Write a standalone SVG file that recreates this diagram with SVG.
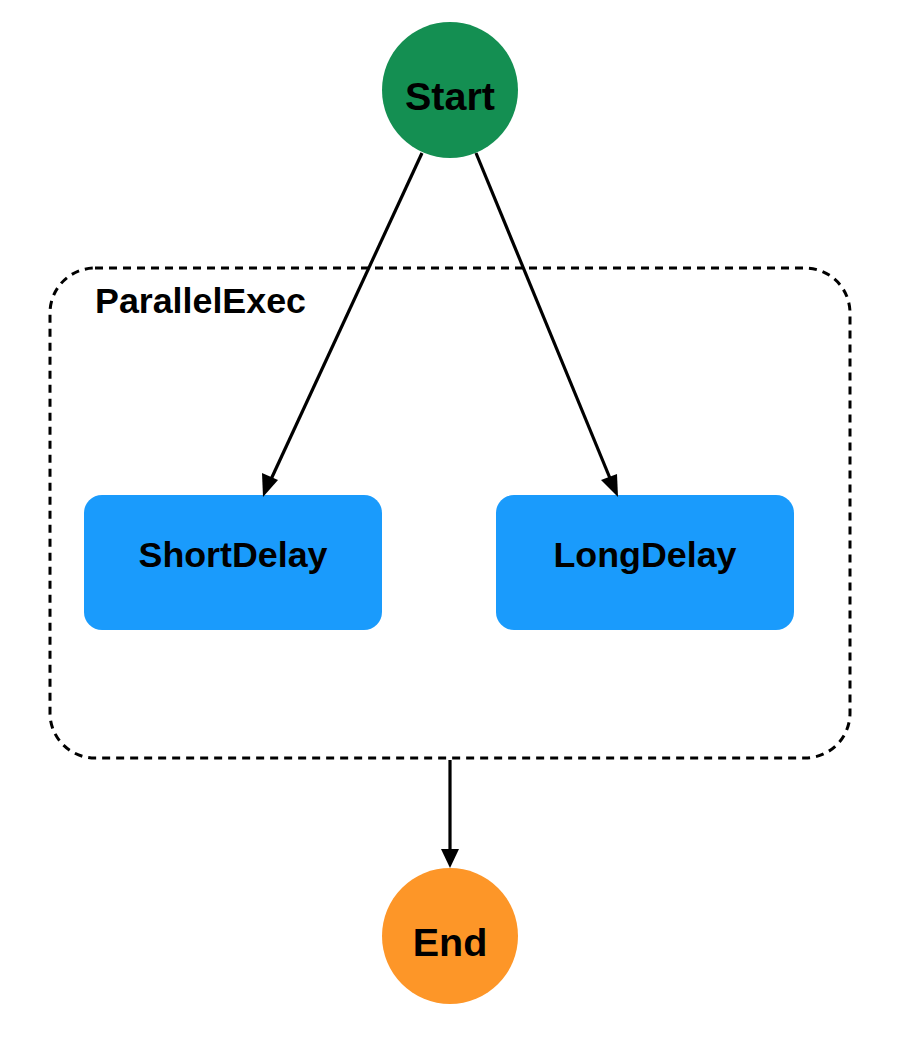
<svg xmlns="http://www.w3.org/2000/svg" width="916" height="1038" viewBox="0 0 916 1038">
<style>
.lbl{font-family:"Liberation Sans",Arial,sans-serif;font-weight:bold;fill:#000;text-anchor:middle}
.edge{stroke:#000;stroke-width:3.2;fill:none}
.task{fill:#1a9bfc}
</style>
<rect width="916" height="1038" fill="#fff"/>
<g id="ParallelExec">
<rect x="50" y="268" width="800" height="490" rx="45" fill="none" stroke="#000" stroke-width="3" stroke-dasharray="8 6"/>
<text x="95" y="313" class="lbl" style="text-anchor:start;font-size:35.8px">ParallelExec</text>
</g>
<g id="Start">
<circle cx="450" cy="90" r="68" fill="#148f52"/>
<text x="450" y="110" class="lbl" font-size="39.5">Start</text>
</g>
<g id="ShortDelay">
<rect x="84" y="495" width="298" height="135" rx="18" class="task"/>
<text x="233" y="567" class="lbl" font-size="35.8">ShortDelay</text>
</g>
<g id="LongDelay">
<rect x="496" y="495" width="298" height="135" rx="18" class="task"/>
<text x="645" y="567" class="lbl" font-size="35.8">LongDelay</text>
</g>
<g id="End">
<circle cx="450" cy="936" r="68" fill="#fd9628"/>
<text x="450" y="956" class="lbl" font-size="39.5">End</text>
</g>
<g id="connectors">
<line x1="422" y1="153" x2="267" y2="488" class="edge"/>
<path d="M263,497 L262,473 L278,480 Z" fill="#000"/>
<line x1="476" y1="153" x2="614" y2="488" class="edge"/>
<path d="M618,497 L601,480 L617,474 Z" fill="#000"/>
<line x1="450" y1="760" x2="450" y2="852" class="edge"/>
<path d="M450,868 L441,849 L459,849 Z" fill="#000"/>
</g>
</svg>
